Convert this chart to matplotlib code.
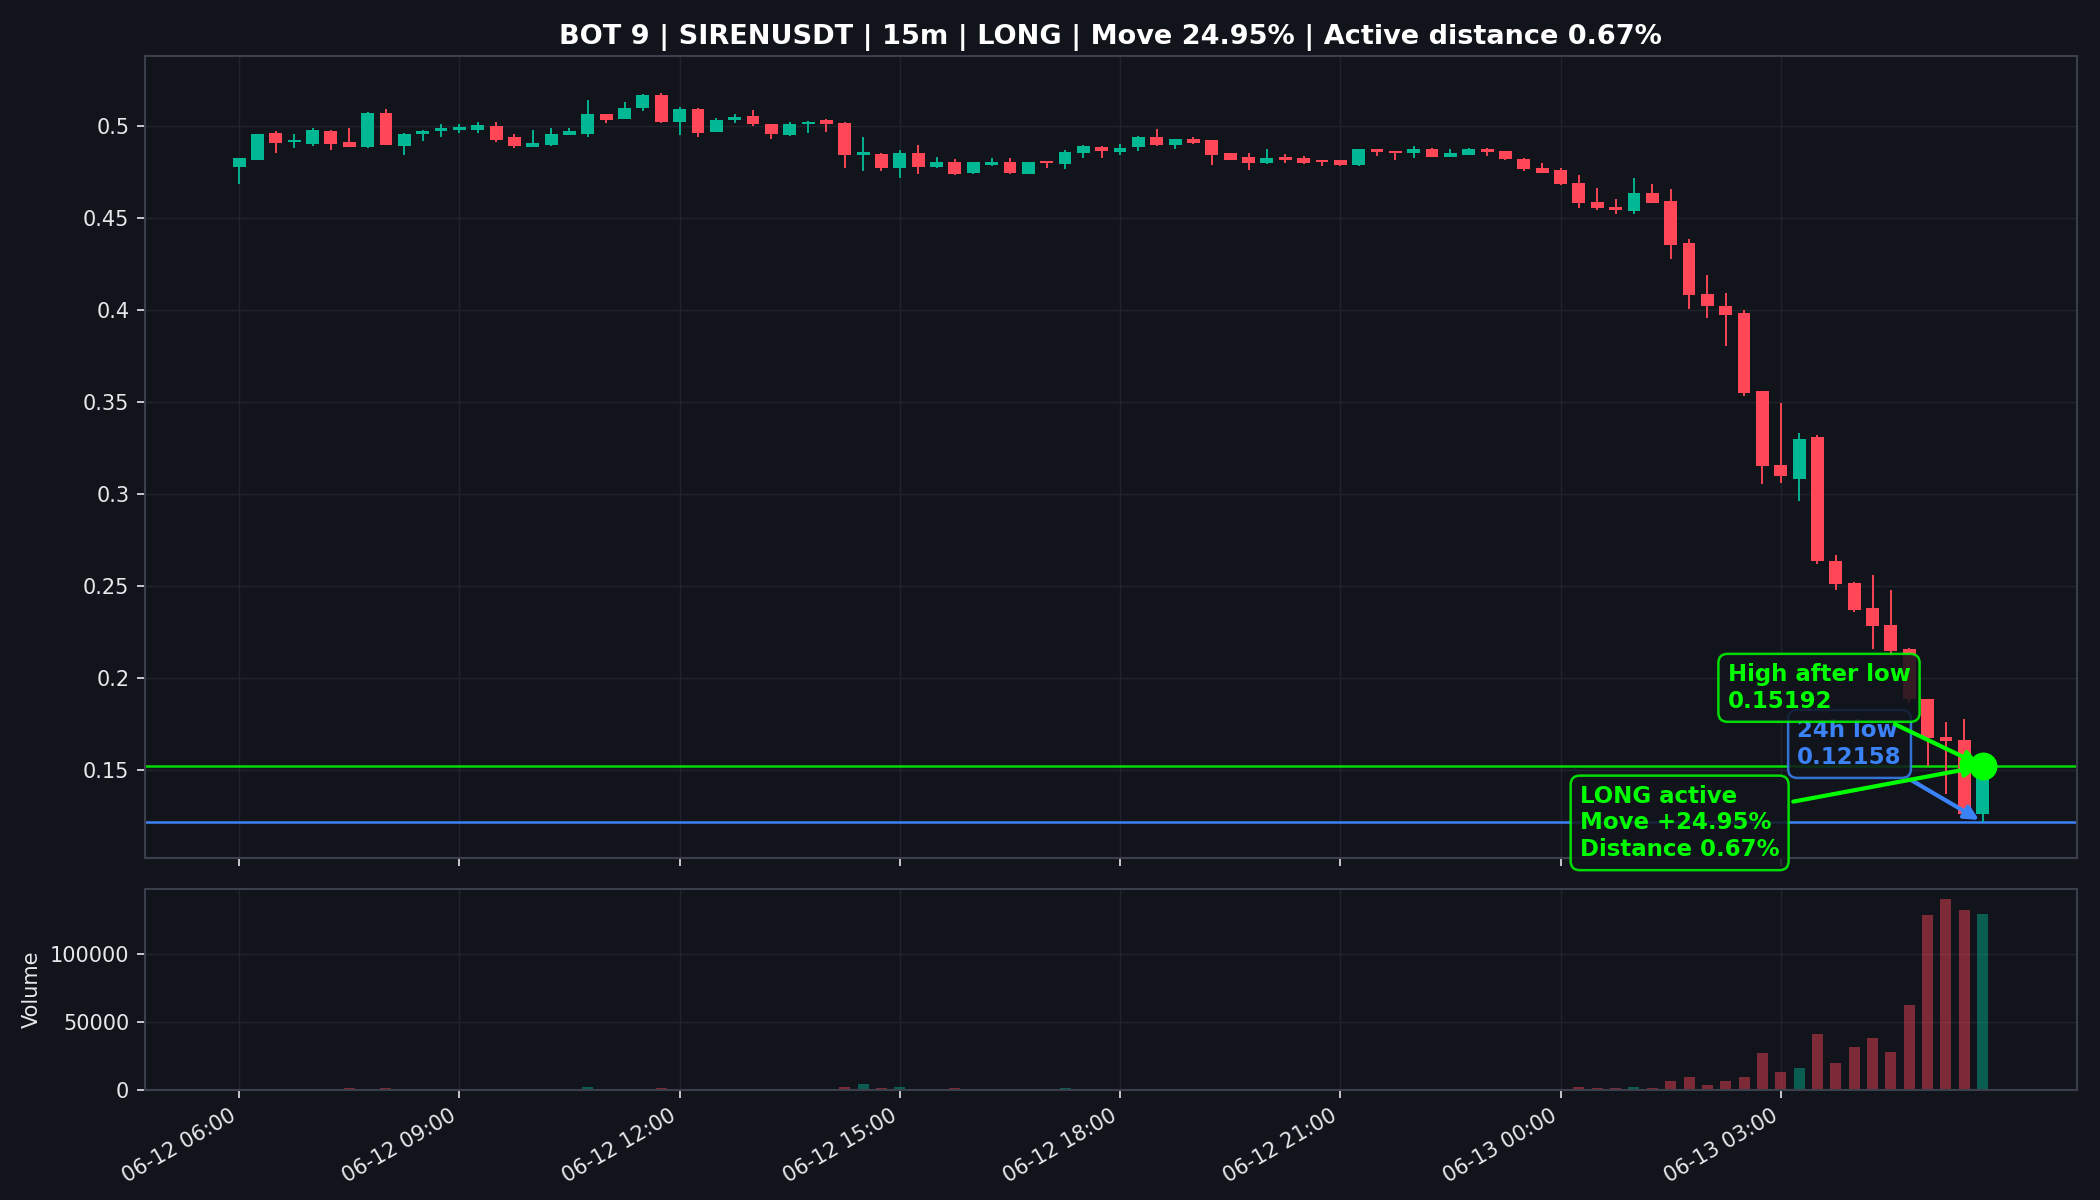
import matplotlib
matplotlib.use("Agg")
import matplotlib.pyplot as plt
import numpy as np
from matplotlib.ticker import FuncFormatter, MultipleLocator

# ---------------- data ----------------
tick_labels = ["06-12 06:00", "06-12 09:00", "06-12 12:00", "06-12 15:00",
               "06-12 18:00", "06-12 21:00", "06-13 00:00", "06-13 03:00"]

opens = [0.4777, 0.4815, 0.4962, 0.4913, 0.4898, 0.4969, 0.4911, 0.4884, 0.5070, 0.4889,
         0.4957, 0.4971, 0.4978, 0.4978, 0.4996, 0.4938, 0.4885, 0.4893, 0.4949, 0.4957,
         0.5065, 0.5038, 0.5097, 0.5165, 0.5020, 0.5092, 0.4967, 0.5032, 0.5054, 0.5009,
         0.4947, 0.5009, 0.5030, 0.5016, 0.4840, 0.4847, 0.4772, 0.4853, 0.4775, 0.4804,
         0.4742, 0.4789, 0.4804, 0.4736, 0.4808, 0.4793, 0.4853, 0.4886, 0.4858, 0.4886,
         0.4940, 0.4897, 0.4929, 0.4920, 0.4850, 0.4831, 0.4795, 0.4828, 0.4822, 0.4811,
         0.4811, 0.4784, 0.4871, 0.4860, 0.4853, 0.4875, 0.4831, 0.4842, 0.4875, 0.4862,
         0.4820, 0.4771, 0.4757, 0.4686, 0.4585, 0.4560, 0.4536, 0.4636, 0.4589, 0.4360,
         0.4083, 0.4018, 0.3984, 0.3556, 0.3154, 0.3078, 0.3308, 0.2634, 0.2516, 0.2380,
         0.2288, 0.2154, 0.1882, 0.1679, 0.1659, 0.1262]
highs = [0.4826, 0.4957, 0.4971, 0.4953, 0.4985, 0.4974, 0.4989, 0.5074, 0.5092, 0.4960,
         0.4978, 0.5011, 0.5011, 0.5021, 0.5018, 0.4957, 0.4974, 0.4989, 0.4989, 0.5137,
         0.5065, 0.5130, 0.5174, 0.5179, 0.5103, 0.5094, 0.5043, 0.5065, 0.5083, 0.5011,
         0.5021, 0.5023, 0.5036, 0.5018, 0.4940, 0.4849, 0.4866, 0.4893, 0.4831, 0.4820,
         0.4804, 0.4822, 0.4825, 0.4804, 0.4810, 0.4866, 0.4895, 0.4888, 0.4898, 0.4942,
         0.4980, 0.4929, 0.4940, 0.4922, 0.4851, 0.4850, 0.4871, 0.4844, 0.4835, 0.4813,
         0.4811, 0.4873, 0.4873, 0.4862, 0.4889, 0.4877, 0.4871, 0.4877, 0.4877, 0.4864,
         0.4822, 0.4798, 0.4771, 0.4730, 0.4663, 0.4599, 0.4717, 0.4681, 0.4657, 0.4386,
         0.4186, 0.4092, 0.3998, 0.3558, 0.3491, 0.3328, 0.3318, 0.2665, 0.2518, 0.2556,
         0.2474, 0.2160, 0.1884, 0.1759, 0.1777, 0.15192]
lows = [0.4681, 0.4815, 0.4853, 0.4877, 0.4889, 0.4868, 0.4884, 0.4880, 0.4893, 0.4840,
        0.4916, 0.4938, 0.4960, 0.4962, 0.4913, 0.4880, 0.4884, 0.4889, 0.4949, 0.4938,
        0.5016, 0.5036, 0.5079, 0.5016, 0.4949, 0.4938, 0.4965, 0.5014, 0.4998, 0.4929,
        0.4944, 0.4960, 0.4967, 0.4772, 0.4754, 0.4754, 0.4718, 0.4736, 0.4772, 0.4733,
        0.4740, 0.4782, 0.4736, 0.4736, 0.4772, 0.4763, 0.4826, 0.4826, 0.4840, 0.4862,
        0.4889, 0.4875, 0.4898, 0.4784, 0.4811, 0.4757, 0.4793, 0.4799, 0.4793, 0.4780,
        0.4780, 0.4782, 0.4835, 0.4811, 0.4822, 0.4829, 0.4829, 0.4840, 0.4835, 0.4813,
        0.4753, 0.4742, 0.4677, 0.4550, 0.4541, 0.4518, 0.4518, 0.4579, 0.4273, 0.4002,
        0.3955, 0.3802, 0.3531, 0.3051, 0.3056, 0.2960, 0.2620, 0.2476, 0.2356, 0.2154,
        0.2118, 0.1860, 0.1520, 0.1366, 0.1250, 0.12158]
closes = [0.4826, 0.4957, 0.4908, 0.4924, 0.4974, 0.4902, 0.4884, 0.5070, 0.4895, 0.4957,
          0.4973, 0.4989, 0.4993, 0.5003, 0.4922, 0.4887, 0.4905, 0.4953, 0.4969, 0.5061,
          0.5029, 0.5097, 0.5165, 0.5020, 0.5092, 0.4960, 0.5032, 0.5047, 0.5011, 0.4957,
          0.5009, 0.5021, 0.5007, 0.4840, 0.4855, 0.4772, 0.4853, 0.4775, 0.4804, 0.4740,
          0.4800, 0.4804, 0.4742, 0.4804, 0.4797, 0.4858, 0.4889, 0.4862, 0.4880, 0.4940,
          0.4893, 0.4926, 0.4907, 0.4839, 0.4813, 0.4795, 0.4824, 0.4813, 0.4795, 0.4802,
          0.4784, 0.4871, 0.4858, 0.4851, 0.4871, 0.4831, 0.4853, 0.4875, 0.4857, 0.4820,
          0.4762, 0.4744, 0.4681, 0.4581, 0.4552, 0.4541, 0.4632, 0.4581, 0.4351, 0.4080,
          0.4020, 0.3973, 0.3549, 0.3150, 0.3096, 0.3295, 0.2634, 0.2511, 0.2367, 0.2281,
          0.2145, 0.1882, 0.1674, 0.1655, 0.1257, 0.1509]
volumes = [600, 400, 500, 300, 400, 700, 1500, 900, 1500, 500,
           300, 200, 300, 200, 600, 400, 500, 300, 400, 2500,
           600, 500, 800, 1500, 700, 600, 400, 300, 500, 400,
           600, 300, 400, 2500, 4400, 1500, 2200, 900, 500, 1500,
           600, 300, 700, 500, 400, 1500, 400, 300, 500, 600,
           500, 700, 300, 400, 900, 300, 500, 400, 300, 200,
           300, 400, 700, 300, 200, 400, 500, 300, 400, 300,
           600, 500, 800, 2200, 1500, 1500, 2500, 1500, 6900, 9800,
           3900, 6900, 9800, 27600, 13300, 16200, 41400, 20200, 31300, 38400,
           28100, 62800, 128800, 141100, 132900, 130000]

low_24h = 0.12158
high_after_low = 0.15192
move_pct = 24.95
distance_pct = 0.67

# ---------------- style ----------------
BG = "#11141b"
GREEN = "#00b894"
RED = "#ff4757"
LIME = "#00ff00"
BLUE = "#3b82f6"
TXT = "#e6e8ec"
SPINE = "#3a3f4b"
GRID = "#1f232c"

fig = plt.figure(figsize=(14, 8), dpi=150, facecolor=BG)
ax = fig.add_axes([0.069, 0.2846, 0.920, 0.6685])
axv = fig.add_axes([0.069, 0.0917, 0.920, 0.1675], sharex=ax)

for a in (ax, axv):
    a.set_facecolor(BG)
    for s in a.spines.values():
        s.set_color(SPINE)
        s.set_linewidth(1.0)
    a.tick_params(colors=TXT, labelsize=10, length=4)
    a.grid(True, color=GRID, lw=0.7, zorder=0)
    a.set_axisbelow(True)

o = np.array(opens); h = np.array(highs); l = np.array(lows); c = np.array(closes)
x = np.arange(len(o))
up = c >= o
colors = np.where(up, GREEN, RED)

ax.vlines(x, l, h, colors=colors, lw=0.9, zorder=2)
body_bottom = np.minimum(o, c)
body_h = np.maximum(np.abs(c - o), 0.0008)
ax.bar(x, body_h, bottom=body_bottom, width=0.7, color=colors, linewidth=0, zorder=3)

ax.axhline(high_after_low, color=LIME, lw=1.2, alpha=0.85, zorder=1.5)
ax.axhline(low_24h, color=BLUE, lw=1.2, zorder=1.5)
ax.scatter([x[-1]], [high_after_low], s=180, color=LIME, zorder=6, linewidths=0)

fs = 11
ax.annotate(f"24h low\n{low_24h:.5f}", xy=(x[-1], low_24h), xytext=(84.9, 0.1640),
            ha="left", va="center", color=BLUE, fontsize=fs, fontweight="bold",
            bbox=dict(boxstyle="round,pad=0.4", fc=BG, ec=BLUE, lw=1.2, alpha=0.85),
            arrowprops=dict(arrowstyle="-|>", color=BLUE, lw=2, mutation_scale=14),
            zorder=7, annotation_clip=False)
ax.annotate(f"High after low\n{high_after_low:.5f}", xy=(x[-1], high_after_low),
            xytext=(81.1, 0.1945),
            ha="left", va="center", color=LIME, fontsize=fs, fontweight="bold",
            bbox=dict(boxstyle="round,pad=0.4", fc=BG, ec=LIME, lw=1.2, alpha=0.85),
            arrowprops=dict(arrowstyle="-|>", color=LIME, lw=2, mutation_scale=14),
            zorder=8, annotation_clip=False)
ax.annotate(f"LONG active\nMove +{move_pct:.2f}%\nDistance {distance_pct:.2f}%",
            xy=(x[-1], high_after_low), xytext=(73.05, 0.1211),
            ha="left", va="center", color=LIME, fontsize=fs, fontweight="bold",
            bbox=dict(boxstyle="round,pad=0.4", fc=BG, ec=LIME, lw=1.2, alpha=0.85),
            arrowprops=dict(arrowstyle="-|>", color=LIME, lw=2, mutation_scale=14),
            zorder=9, annotation_clip=False)

ax.yaxis.set_major_formatter(FuncFormatter(lambda v, p: f"{v:g}"))
ax.tick_params(labelbottom=False)
ax.set_title("BOT 9 | SIRENUSDT | 15m | LONG | Move 24.95% | Active distance 0.67%",
             color="white", fontsize=13, fontweight="bold")

vcolors = np.where(up, GREEN, RED)
axv.bar(x, volumes, width=0.6, color=vcolors, alpha=0.45, linewidth=0, zorder=2)
axv.yaxis.set_major_locator(MultipleLocator(50000))
axv.set_ylabel("Volume", color=TXT, fontsize=10)
axv.set_xticks(range(0, len(x), 12))
axv.set_xticklabels(tick_labels, rotation=30, ha="right")

fig.savefig("out.png", dpi=150, facecolor=BG)
